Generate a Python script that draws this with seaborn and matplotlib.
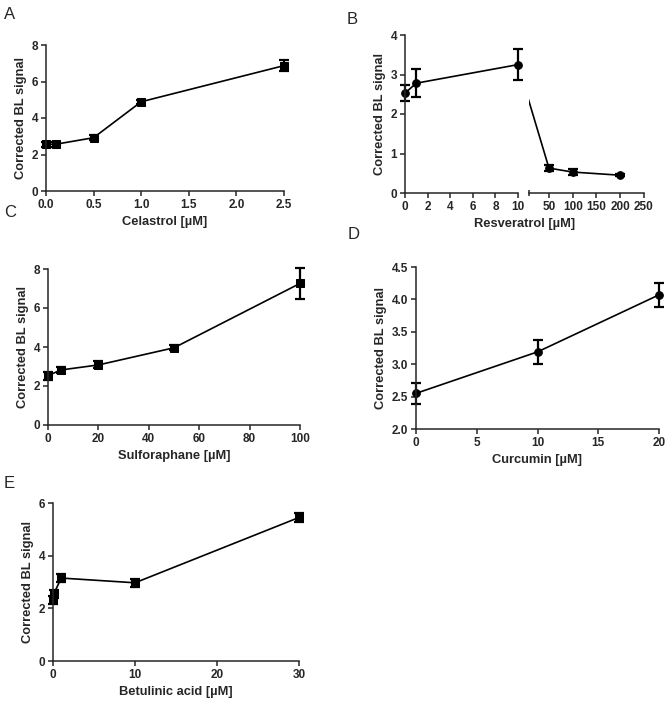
import numpy as np
import matplotlib
matplotlib.use("Agg")
import matplotlib.pyplot as plt
import seaborn as sns

# panel A - celastrol
cel_x = [0, 0.1, 0.5, 1.0, 2.5]
cel_y = [2.56, 2.56, 2.92, 4.89, 6.87]
cel_err = [0.15, 0.15, 0.15, 0.12, 0.3]

# panel B - resveratrol (broken x axis)
res_x = [0, 1, 10, 50, 100, 200]
res_y = [2.53, 2.78, 3.25, 0.63, 0.53, 0.45]
res_err = [0.2, 0.35, 0.4, 0.08, 0.07, 0.03]

# panel C - sulforaphane
sul_x = [0, 5, 20, 50, 100]
sul_y = [2.53, 2.82, 3.08, 3.96, 7.26]
sul_err = [0.2, 0.15, 0.18, 0.12, 0.8]

# panel D - curcumin
cur_x = [0, 10, 20]
cur_y = [2.55, 3.19, 4.07]
cur_err = [0.16, 0.19, 0.19]

# panel E - betulinic acid
bet_x = [0, 0.1, 1, 10, 30]
bet_y = [2.3, 2.55, 3.15, 2.97, 5.45]
bet_err = [0.15, 0.15, 0.15, 0.15, 0.18]

sns.set_style("ticks")
plt.rcParams["font.family"] = ["Liberation Sans", "DejaVu Sans"]
plt.rcParams["font.weight"] = "bold"
plt.rcParams["axes.labelweight"] = "bold"
plt.rcParams["axes.linewidth"] = 1.1
plt.rcParams["xtick.major.width"] = 1.1
plt.rcParams["ytick.major.width"] = 1.1
plt.rcParams["xtick.major.size"] = 3.5
plt.rcParams["ytick.major.size"] = 3.5
plt.rcParams["xtick.labelsize"] = 8.5
plt.rcParams["ytick.labelsize"] = 8.5
plt.rcParams["axes.labelsize"] = 9.3
plt.rcParams["xtick.major.pad"] = 2
plt.rcParams["ytick.major.pad"] = 2
plt.rcParams["axes.labelpad"] = 3.5

W, H = 670, 704
fig = plt.figure(figsize=(W / 100, H / 100), dpi=100)


def place(l, r, t, b):
    return fig.add_axes([l / W, 1 - b / H, (r - l) / W, (b - t) / H])


def draw(ax, x, y, err, marker):
    sns.lineplot(x=x, y=y, ax=ax, color="black", marker=marker, markersize=5.5,
                 markeredgecolor="black", linewidth=1.2, clip_on=False)
    ax.errorbar(x, y, yerr=err, fmt="none", ecolor="black", elinewidth=1.6,
                capsize=3.4, capthick=1.6, clip_on=False)
    sns.despine(ax=ax)


ylab = "Corrected BL signal"

# A
ax = place(46, 284, 45, 191)
draw(ax, cel_x, cel_y, cel_err, "s")
ax.set_xlim(0, 2.5)
ax.set_ylim(0, 8)
ax.set_xticks([0, 0.5, 1.0, 1.5, 2.0, 2.5])
ax.set_xticklabels(["0.0", "0.5", "1.0", "1.5", "2.0", "2.5"])
ax.set_yticks([0, 2, 4, 6, 8])
ax.set_xlabel("Celastrol [µM]")
ax.set_ylabel(ylab)

# B left
axl = place(405, 518, 35, 193)
axr = place(529, 644, 35, 193)
lx = [v for v in res_x if v <= 10]
n = len(lx)
draw(axl, lx, res_y[:n], res_err[:n], "o")
axl.set_xlim(0, 10)
axl.set_ylim(0, 4)
axl.set_xticks([0, 2, 4, 6, 8, 10])
axl.set_yticks([0, 1, 2, 3, 4])
axl.set_ylabel(ylab)

draw(axr, res_x[n:], res_y[n:], res_err[n:], "o")
axr.set_xlim(8, 250)
axr.set_ylim(0, 4)
axr.set_xticks([50, 100, 150, 200, 250])
axr.set_xticks([8], minor=True)
axr.tick_params(axis="x", which="minor", length=5, width=1.1, direction="inout")
axr.spines["left"].set_visible(False)
axr.set_yticks([])
axr.patch.set_alpha(0)
# connector across the break, drawn in display space like the original
p0 = axl.transData.transform((res_x[n - 1], res_y[n - 1]))
q0 = axr.transData.inverted().transform(p0)
axr.plot([q0[0], res_x[n]], [q0[1], res_y[n]], color="black", linewidth=1.2)
fig.text((405 + 644) / 2 / W, 1 - 224 / H, "Resveratrol [µM]", ha="center",
         va="center", fontsize=9.3, fontweight="bold")

# C
ax = place(48, 300, 269, 425)
draw(ax, sul_x, sul_y, sul_err, "s")
ax.set_xlim(0, 100)
ax.set_ylim(0, 8)
ax.set_xticks([0, 20, 40, 60, 80, 100])
ax.set_yticks([0, 2, 4, 6, 8])
ax.set_xlabel("Sulforaphane [µM]")
ax.set_ylabel(ylab)

# D
ax = place(416, 659, 267, 429)
draw(ax, cur_x, cur_y, cur_err, "o")
ax.set_xlim(0, 20)
ax.set_ylim(2.0, 4.5)
ax.set_xticks([0, 5, 10, 15, 20])
ax.set_yticks([2.0, 2.5, 3.0, 3.5, 4.0, 4.5])
ax.set_yticklabels(["2.0", "2.5", "3.0", "3.5", "4.0", "4.5"])
ax.set_xlabel("Curcumin [µM]")
ax.set_ylabel(ylab)

# E
ax = place(53, 299, 503, 661)
draw(ax, bet_x, bet_y, bet_err, "s")
ax.set_xlim(0, 30)
ax.set_ylim(0, 6)
ax.set_xticks([0, 10, 20, 30])
ax.set_yticks([0, 2, 4, 6])
ax.set_xlabel("Betulinic acid [µM]")
ax.set_ylabel(ylab)

for lab, x, y in [("A", 4, 7), ("B", 347, 12), ("C", 4, 205), ("D", 348, 227), ("E", 4, 476)]:
    fig.text(x / W, 1 - y / H, lab, ha="left", va="top", fontsize=12,
             fontweight="normal")

fig.savefig("out.png", dpi=100)
